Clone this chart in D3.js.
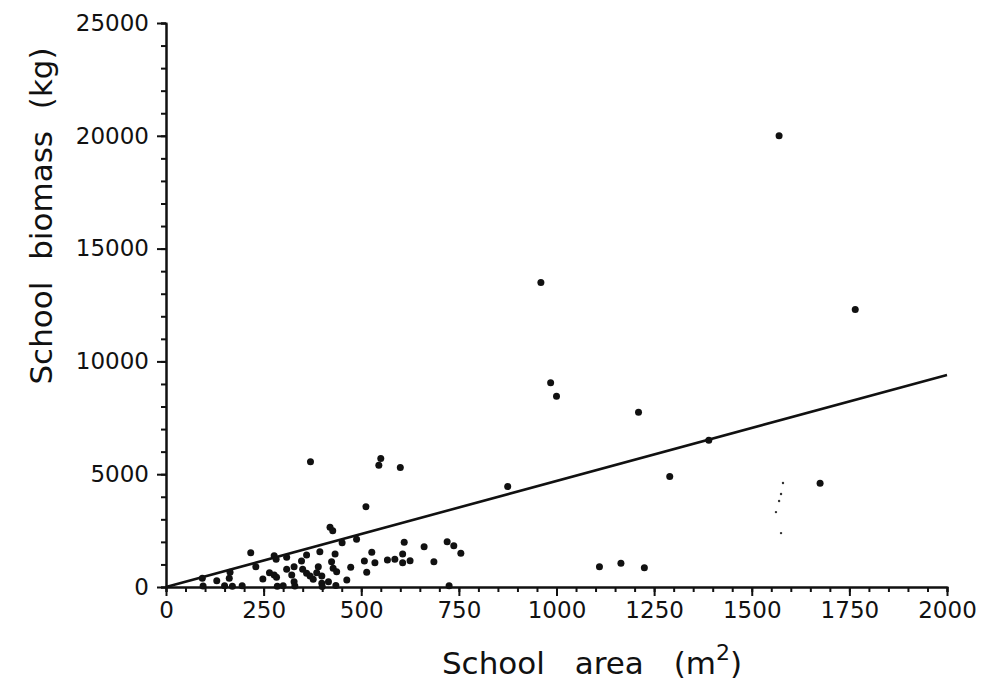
<!DOCTYPE html>
<html>
<head>
<meta charset="utf-8">
<script src="https://cdn.jsdelivr.net/npm/d3@7"></script>
<style>
  body { margin: 0; background: #fff; }
  svg text { font-family: "DejaVu Sans", sans-serif; fill: #111; }
</style>
</head>
<body>
<div id="chart"></div>
<script>
// school area (m2) and biomass (kg)
const areas = [
    93, 130, 162, 164, 217, 230, 248, 265, 277, 283, 277, 282, 309, 309, 328, 322, 328,
    347, 350, 360, 360, 369, 377, 386, 394, 390, 399, 399, 416, 420, 427, 424, 428, 437,
    433, 451, 463, 473, 488, 512, 508, 514, 527, 535, 567, 586, 606, 606, 610, 625, 661,
    686, 720, 737, 755,
    95, 150, 170, 195, 285, 300, 330, 400, 435, 725,
    370, 545, 550, 600, 875, 960, 985, 1000, 1110, 1165, 1225, 1210, 1290, 1390, 1570,
    1675, 1765
];
const biomass = [
    386, 279, 386, 650, 1521, 901, 355, 634, 532, 430, 1389, 1226, 1315, 785, 900, 532, 235,
    1152, 785, 1418, 607, 488, 341, 634, 1565, 900, 164, 488, 235, 2645, 2497, 1122, 829, 678,
    1463, 1964, 310, 873, 2114, 3560, 1152, 652, 1538, 1077, 1197, 1226, 1463, 1077, 1981, 1166, 1786,
    1122, 2008, 1831, 1494,
    40, 60, 30, 50, 30, 60, 40, 20, 70, 60,
    5550, 5400, 5700, 5300, 4450, 13500, 9050, 8450, 900, 1050, 850, 7750, 4900, 6500, 20000,
    4600, 12300
];

// faint specks in the scan near 1575 m2
const speckAreas = [1580, 1575, 1570, 1562, 1575];
const speckBiomass = [4610, 4120, 3810, 3320, 2390];

// fitted line through the origin
const fitX = [0, 2000];
const fitY = [0, 9400];

const xTicks = [0, 250, 500, 750, 1000, 1250, 1500, 1750, 2000];
const yTicks = [0, 5000, 10000, 15000, 20000, 25000];

const width = 990, height = 699;
const svg = d3.select('#chart')
    .append('svg')
    .attr('width', width)
    .attr('height', height);

const xScale = d3.scaleLinear().domain([0, 2000]).range([166, 947]);
const yScale = d3.scaleLinear().domain([0, 25000]).range([587, 23]);

// minor ticks first, majors on top
const xMinor = d3.axisBottom(xScale)
    .tickValues(d3.range(0, 2001, 50))
    .tickSize(5)
    .tickFormat('');
svg.append('g')
    .attr('transform', 'translate(0,' + yScale(0) + ')')
    .call(xMinor);

const xAxis = d3.axisBottom(xScale)
    .tickValues(xTicks)
    .tickSize(9)
    .tickSizeOuter(0)
    .tickPadding(6)
    .tickFormat(d3.format('d'));
svg.append('g')
    .attr('id', 'x-axis')
    .attr('transform', 'translate(0,' + yScale(0) + ')')
    .call(xAxis);

const yMinor = d3.axisLeft(yScale)
    .tickValues(d3.range(0, 25001, 1000))
    .tickSize(5)
    .tickFormat('');
svg.append('g')
    .attr('transform', 'translate(' + xScale(0) + ',0)')
    .call(yMinor);

const yAxis = d3.axisLeft(yScale)
    .tickValues(yTicks)
    .tickSize(9)
    .tickSizeOuter(0)
    .tickPadding(8)
    .tickFormat(d3.format('d'));
svg.append('g')
    .attr('id', 'y-axis')
    .attr('transform', 'translate(' + xScale(0) + ',0)')
    .call(yAxis);

svg.selectAll('.domain, .tick line')
    .attr('stroke', '#111')
    .attr('stroke-width', 2);
svg.selectAll('.tick text')
    .attr('font-size', 23)
    .attr('fill', '#111');

// regression line
const line = d3.line()
    .x(d => xScale(d[0]))
    .y(d => yScale(d[1]));
svg.append('path')
    .datum(d3.zip(fitX, fitY))
    .attr('d', line)
    .attr('fill', 'none')
    .attr('stroke', '#111')
    .attr('stroke-width', 2.6);

// schools
svg.append('g')
    .selectAll('circle')
    .data(d3.zip(areas, biomass))
    .enter()
    .append('circle')
    .attr('cx', d => xScale(d[0]))
    .attr('cy', d => yScale(d[1]))
    .attr('r', 3.5)
    .attr('fill', '#111');

svg.append('g')
    .selectAll('circle')
    .data(d3.zip(speckAreas, speckBiomass))
    .enter()
    .append('circle')
    .attr('cx', d => xScale(d[0]))
    .attr('cy', d => yScale(d[1]))
    .attr('r', 1.2)
    .attr('fill', '#333');

// axis titles
const xTitle = svg.append('text')
    .attr('x', 592)
    .attr('y', 674)
    .attr('text-anchor', 'middle')
    .attr('font-size', 31)
    .attr('word-spacing', 20);
xTitle.append('tspan').text('School area (m');
xTitle.append('tspan').text('2').attr('font-size', 22).attr('dy', -14);
xTitle.append('tspan').text(')').attr('dy', 14);

svg.append('text')
    .attr('transform', 'translate(52,' + 216 + ') rotate(-90)')
    .attr('text-anchor', 'middle')
    .attr('font-size', 31)
    .attr('word-spacing', 12)
    .text('School biomass (kg)');
</script>
</body>
</html>
